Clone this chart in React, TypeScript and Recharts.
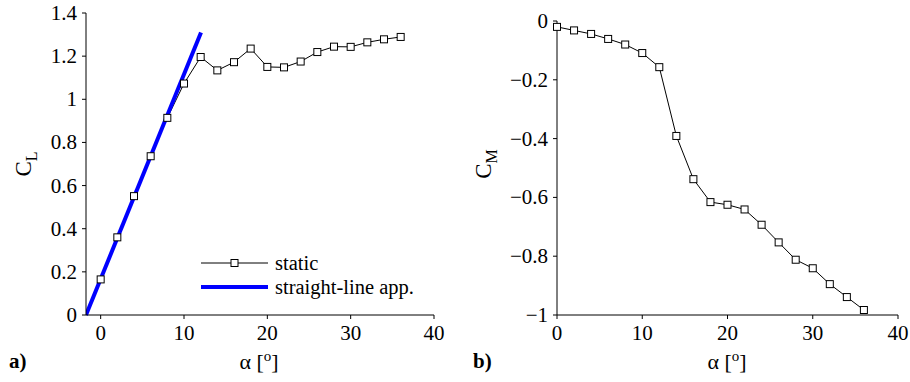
import { LineChart, Line, XAxis, YAxis } from 'recharts';

// angle of attack, degrees
const alpha = [0, 2, 4, 6, 8, 10, 12, 14, 16, 18, 20, 22, 24, 26, 28, 30, 32, 34, 36];
const staticCL = [0.165, 0.36, 0.551, 0.736, 0.914, 1.073, 1.196, 1.134, 1.172, 1.235, 1.15, 1.148, 1.175, 1.219, 1.244, 1.243, 1.264, 1.278, 1.289];
const staticCM = [-0.02, -0.032, -0.044, -0.061, -0.08, -0.109, -0.157, -0.391, -0.538, -0.616, -0.625, -0.641, -0.693, -0.753, -0.812, -0.841, -0.895, -0.939, -0.983];

// straight-line approximation endpoints
const fitAlpha = [-1.76, 12.04];
const fitCL = [0, 1.31];

const clTicks = [0, 0.2, 0.4, 0.6, 0.8, 1, 1.2, 1.4];
const cmTicks = [-1, -0.8, -0.6, -0.4, -0.2, 0];
const alphaTicks = [0, 10, 20, 30, 40];

const clData = alpha.map((a, i) => ({ a, v: staticCL[i] }));
const cmData = alpha.map((a, i) => ({ a, v: staticCM[i] }));
const fitData = fitAlpha.map((a, i) => ({ a, v: fitCL[i] }));

const FONT = '"Liberation Serif", "DejaVu Serif", serif';

const SquareDot = (props: any) => {
    const { cx, cy } = props;
    if (cx == null || cy == null) return null;
    return <rect x={cx - 3.5} y={cy - 3.5} width={7} height={7} fill="#fff" stroke="#000" strokeWidth={1} />;
};

const renderXTick = (props: any) => {
    const { x, y, payload } = props;
    return (
        <text x={x} y={y + 19} textAnchor="middle" fontFamily={FONT} fontSize={21} fill="#000">
            {payload.value}
        </text>
    );
};

const renderYTick = (props: any) => {
    const { x, y, payload } = props;
    const label = String(payload.value).replace('-', '−');
    return (
        <text x={x - 3} y={y + 7} textAnchor="end" fontFamily={FONT} fontSize={21} fill="#000">
            {label}
        </text>
    );
};

const AlphaLabel = ({ cx }: { cx: number }) => (
    <text x={cx} y={369} textAnchor="middle" fontFamily={FONT} fontSize={22} fill="#000">
        α [<tspan dy={-8} fontSize={15}>o</tspan><tspan dy={8}>]</tspan>
    </text>
);

const CoefLabel = ({ x, y, sub }: { x: number; y: number; sub: string }) => (
    <text transform={`translate(${x},${y}) rotate(-90)`} textAnchor="middle" fontFamily={FONT} fontSize={23} fill="#000">
        C<tspan dy={6} fontSize={16}>{sub}</tspan>
    </text>
);

export default function App() {
    return (
        <div style={{ position: 'absolute', left: 0, top: 0, width: 910, height: 382, background: '#fff', fontFamily: FONT }}>
            <div style={{ position: 'absolute', left: 0, top: 0 }}>
                <LineChart width={450} height={382} margin={{ top: 13, right: 16, bottom: 37, left: 26 }}>
                    <XAxis
                        dataKey="a"
                        type="number"
                        domain={[-1.76, 40]}
                        ticks={alphaTicks}
                        allowDataOverflow
                        height={30}
                        tickSize={4}
                        tick={renderXTick}
                        stroke="#000"
                        label={{ content: () => <AlphaLabel cx={259} /> }}
                    />
                    <YAxis
                        type="number"
                        domain={[0, 1.4]}
                        ticks={clTicks}
                        width={60}
                        tickSize={4}
                        tick={renderYTick}
                        stroke="#000"
                        label={{ content: () => <CoefLabel x={31} y={164} sub="L" /> }}
                    />
                    <Line
                        data={clData}
                        dataKey="v"
                        name="static"
                        stroke="#000"
                        strokeWidth={1}
                        dot={<SquareDot />}
                        isAnimationActive={false}
                    />
                    <Line
                        data={fitData}
                        dataKey="v"
                        name="straight-line app."
                        stroke="#0000ff"
                        strokeWidth={4}
                        dot={false}
                        isAnimationActive={false}
                    />
                </LineChart>
                {/* legend */}
                <svg width={250} height={50} style={{ position: 'absolute', left: 195, top: 252 }}>
                    <line x1={6} y1={11} x2={73} y2={11} stroke="#000" strokeWidth={1} />
                    <rect x={36} y={7.5} width={7} height={7} fill="#fff" stroke="#000" />
                    <text x={80} y={18} fontFamily={FONT} fontSize={20.5} fill="#000">static</text>
                    <line x1={6} y1={35} x2={73} y2={35} stroke="#0000ff" strokeWidth={4} />
                    <text x={80} y={42} fontFamily={FONT} fontSize={20.5} fill="#000">straight-line app.</text>
                </svg>
            </div>
            <div style={{ position: 'absolute', left: 460, top: 0 }}>
                <LineChart width={450} height={382} margin={{ top: 21, right: 12, bottom: 37, left: 37 }}>
                    <XAxis
                        dataKey="a"
                        type="number"
                        domain={[0, 40]}
                        ticks={alphaTicks}
                        height={30}
                        tickSize={4}
                        tick={renderXTick}
                        stroke="#000"
                        label={{ content: () => <AlphaLabel cx={267} /> }}
                    />
                    <YAxis
                        type="number"
                        domain={[-1, 0]}
                        ticks={cmTicks}
                        width={60}
                        tickSize={4}
                        tick={renderYTick}
                        stroke="#000"
                        label={{ content: () => <CoefLabel x={31} y={164} sub="M" /> }}
                    />
                    <Line
                        data={cmData}
                        dataKey="v"
                        stroke="#000"
                        strokeWidth={1}
                        dot={<SquareDot />}
                        isAnimationActive={false}
                    />
                </LineChart>
            </div>
            <div style={{ position: 'absolute', left: 9, top: 349, fontSize: 21, fontWeight: 'bold' }}>a)</div>
            <div style={{ position: 'absolute', left: 473, top: 349, fontSize: 21, fontWeight: 'bold' }}>b)</div>
        </div>
    );
}
